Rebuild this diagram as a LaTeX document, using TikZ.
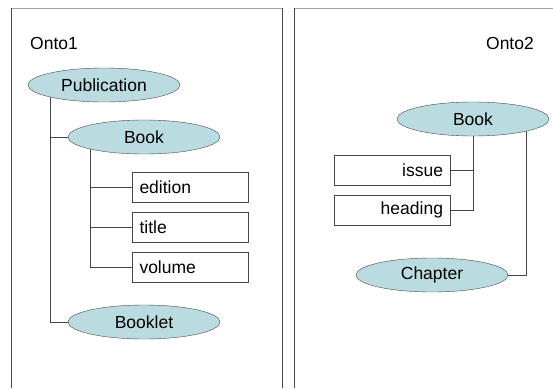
\documentclass[tikz,border=0pt]{standalone}
\usepackage{fontspec}
\setmainfont{Liberation Sans}
\usetikzlibrary{shapes.geometric}
\definecolor{classfill}{RGB}{186,220,224}
\definecolor{edge}{RGB}{70,70,70}

\begin{document}
\begin{tikzpicture}[x=1pt, y=-1pt,
  font=\fontsize{17.5}{20}\selectfont,
  cls/.style={ellipse, draw=edge, fill=classfill, minimum width=152pt, minimum height=34pt, inner sep=0pt},
  attr/.style={rectangle, draw=edge, minimum width=116pt, minimum height=30pt, inner sep=0pt, text width=102pt},
  link/.style={edge, line width=0.8pt}]
\useasboundingbox (0,0) rectangle (553,388);

\draw [gray!70, line width=0.8pt] (11,8) -- (282,8);
\draw [edge, line width=0.9pt] (11,8) -- (11,388);
\draw [edge, line width=0.9pt] (282,8) -- (282,388);
\draw [gray!70, line width=0.8pt] (294,8) -- (553,8);
\draw [edge, line width=0.9pt] (294,8) -- (294,388);

\node [anchor=west, inner sep=0pt] (onto1) at (30,43) {Onto1};
\node [cls] (pub) at (104,85) {Publication};
\node [cls] (book) at (144,137) {Book};
\node [attr, align=left] (edition) at (190.5,187) {edition};
\node [attr, align=left] (title) at (190.5,227) {title};
\node [attr, align=left] (volume) at (190.5,267) {volume};
\node [cls] (booklet) at (144,322) {Booklet};

\draw [link] (pub.south west) |- (book.west);
\draw [link] (pub.south west) |- (booklet.west);
\draw [link] (book.south west) |- (edition.west);
\draw [link] (book.south west) |- (title.west);
\draw [link] (book.south west) |- (volume.west);

\node [anchor=east, inner sep=0pt] (onto2) at (534,43) {Onto2};
\node [cls] (rbook) at (473,119) {Book};
\node [attr, align=right] (issue) at (392,170) {issue};
\node [attr, align=right] (heading) at (392,210) {heading};
\node [cls] (chapter) at (432,275) {Chapter};

\draw [link] (rbook.south) |- (issue.east);
\draw [link] (rbook.south) |- (heading.east);
\draw [link] (rbook.south east) |- (chapter.east);

\end{tikzpicture}
\end{document}
